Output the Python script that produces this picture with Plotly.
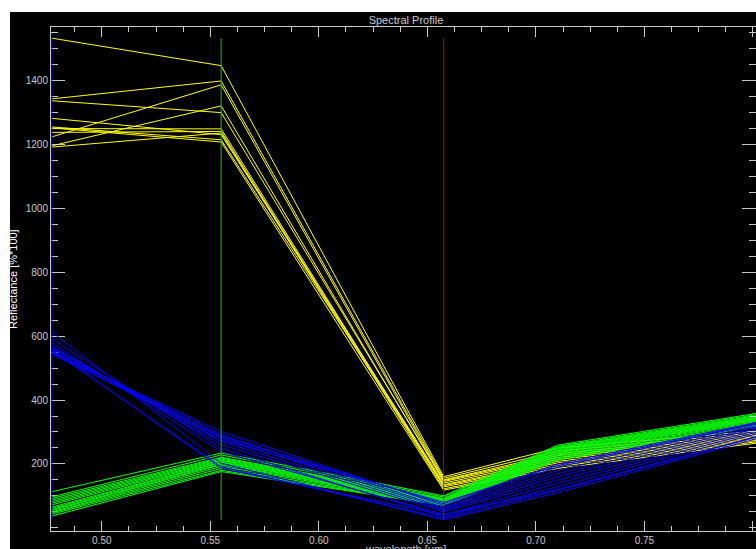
import numpy as np
import plotly.graph_objects as go

# Band centre wavelengths [µm]
wavelengths = [0.477, 0.555, 0.6575, 0.710, 0.805]

# Reflectance [%*100] per class, one row per pixel profile
yellow_profiles = [
    [1533, 1447, 160, 250, 305],
    [1343, 1399, 155, 240, 300],
    [1337, 1300, 150, 232, 296],
    [1224, 1387, 148, 226, 292],
    [1196, 1321, 145, 220, 288],
    [1282, 1231, 140, 214, 285],
    [1255, 1215, 135, 208, 282],
    [1250, 1249, 132, 203, 279],
    [1238, 1241, 128, 197, 276],
    [1192, 1236, 122, 192, 272],
    [1252, 1208, 118, 186, 268],
]
green_profiles = [
    [113, 234, 100, 259, 362],
    [97, 228, 96, 255, 358],
    [92, 221, 92, 252, 355],
    [87, 218, 90, 250, 352],
    [82, 215, 88, 247, 350],
    [77, 212, 86, 244, 348],
    [72, 209, 84, 241, 346],
    [65, 206, 82, 238, 344],
    [61, 204, 80, 235, 342],
    [57, 200, 78, 232, 340],
    [54, 197, 76, 228, 337],
    [50, 192, 75, 224, 334],
    [47, 186, 73, 220, 330],
    [43, 180, 72, 216, 326],
    [37, 176, 70, 212, 322],
]
blue_profiles = [
    [613, 202, 25, 110, 285],
    [591, 249, 35, 130, 300],
    [578, 238, 42, 120, 292],
    [568, 260, 50, 150, 310],
    [563, 270, 55, 160, 316],
    [560, 281, 60, 170, 320],
    [555, 191, 30, 118, 290],
    [552, 291, 64, 180, 325],
    [547, 301, 70, 190, 330],
    [542, 286, 75, 200, 335],
    [558, 186, 40, 140, 305],
    [550, 275, 80, 195, 332],
]

x_ticks = [0.50, 0.55, 0.60, 0.65, 0.70, 0.75, 0.80]
y_ticks = [200, 400, 600, 800, 1000, 1200, 1400]

GREY = "#c8c8c8"
FONT = "Liberation Sans"

fig = go.Figure()

for profiles, color in [(yellow_profiles, "#ffff00"),
                        (green_profiles, "#00ff00"),
                        (blue_profiles, "#0000ff")]:
    for row in profiles:
        fig.add_trace(go.Scatter(x=wavelengths, y=row, mode="lines",
                                 line=dict(color=color, width=1),
                                 showlegend=False, hoverinfo="skip"))

all_vals = np.array(yellow_profiles + green_profiles + blue_profiles)
vmin, vmax = float(all_vals.min()), float(all_vals.max())
for wl, color in [(wavelengths[0], "#0000ff"), (wavelengths[1], "#00d000"),
                  (wavelengths[2], "#c00000")]:
    fig.add_trace(go.Scatter(x=[wl, wl], y=[vmin, vmax], mode="lines",
                             line=dict(color=color, width=1),
                             showlegend=False, hoverinfo="skip"))

# carrier trace for the right-hand tick axis
fig.add_trace(go.Scatter(x=[None], y=[None], yaxis="y2", showlegend=False))

yrange = [-10, 1568]
xrange_ = [0.4766, 0.8014]

fig.update_layout(
    width=756, height=549,
    margin=dict(l=51, r=0, t=27, b=18),
    paper_bgcolor="black", plot_bgcolor="black",
    font=dict(family=FONT, size=10, color=GREY),
    title=dict(text="Spectral Profile", x=0.5035, xref="paper", xanchor="center",
               y=1 - 20 / 549, yanchor="middle",
               font=dict(family=FONT, size=11, color=GREY)),
    xaxis=dict(range=xrange_, tickvals=x_ticks, tickformat=".2f",
               ticks="inside", ticklen=10, tickwidth=1, tickcolor=GREY,
               showline=True, linecolor=GREY, linewidth=1, mirror="ticks",
               showgrid=False, zeroline=False, ticklabelstandoff=0,
               minor=dict(ticks="inside", ticklen=5, tickcolor=GREY,
                          tickmode="linear", tick0=0.5, dtick=0.0125, showgrid=False),
               tickfont=dict(family=FONT, size=10, color=GREY)),
    yaxis=dict(range=yrange, tickvals=y_ticks,
               ticks="inside", ticklen=14, tickwidth=1, tickcolor=GREY,
               showline=True, linecolor=GREY, linewidth=1,
               showgrid=False, zeroline=False, layer="below traces",
               minor=dict(ticks="inside", ticklen=7, tickcolor=GREY,
                          tickmode="linear", tick0=0, dtick=50, showgrid=False),
               tickfont=dict(family=FONT, size=10, color=GREY)),
    yaxis2=dict(range=yrange, overlaying="y", side="right", tickvals=y_ticks,
                ticks="inside", ticklen=14, tickcolor=GREY, showticklabels=False,
                showline=False, showgrid=False, zeroline=False,
                minor=dict(ticks="inside", ticklen=7, tickcolor=GREY,
                           tickmode="linear", tick0=0, dtick=50, showgrid=False)),
    annotations=[
        dict(text="Reflectance [%*100]", xref="paper", yref="paper",
             x=(13 - 51) / 705, y=0.5, xanchor="center", yanchor="middle",
             textangle=-90, showarrow=False,
             font=dict(family=FONT, size=11, color="white")),
        dict(text="wavelength [µm]", xref="paper", yref="paper",
             x=0.5035, y=(531 - 549) / 504, xanchor="center", yanchor="middle",
             showarrow=False, font=dict(family=FONT, size=11, color=GREY)),
    ],
    shapes=[
        dict(type="rect", xref="paper", yref="paper", layer="above",
             x0=-51 / 705, x1=(10 - 51) / 705, y0=-18 / 504, y1=(531) / 504,
             fillcolor="white", line=dict(width=0)),
        dict(type="rect", xref="paper", yref="paper", layer="above",
             x0=-51 / 705, x1=1.0, y0=(531 - 12) / 504, y1=531 / 504,
             fillcolor="white", line=dict(width=0)),
    ],
)

fig.write_html("out.html", config={"displayModeBar": False},
               post_script="document.body.style.margin='0';"
                           "document.body.style.overflow='hidden';")
